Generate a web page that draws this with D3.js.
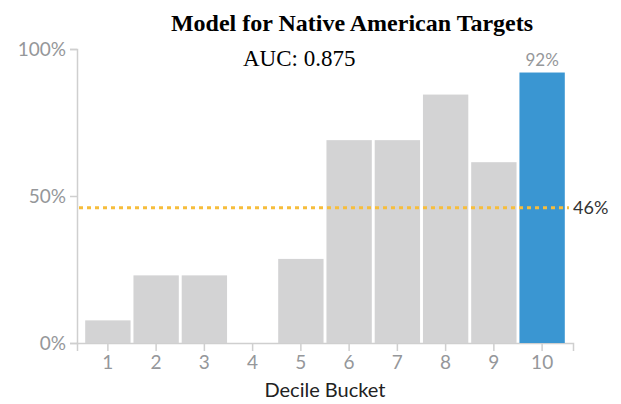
<!DOCTYPE html>
<html>
<head>
<meta charset="utf-8">
<script src="https://cdn.jsdelivr.net/npm/d3@7"></script>
<style>
  body { margin: 0; background: #fff; }
  .axis text { font-family: Lato, sans-serif; fill: #95979a; }
  .axis path, .axis line { stroke: #cfcfcf; stroke-width: 1.5px; }
</style>
</head>
<body>
<div id="chart"></div>
<script>
// data
const deciles = ["1", "2", "3", "4", "5", "6", "7", "8", "9", "10"]
const rates = [0.077, 0.23, 0.23, 0, 0.286, 0.69, 0.69, 0.845, 0.615, 0.92]
const yTicks = [0, 0.5, 1]
const average = 0.46
const highlight = "10"

const WIDTH = 621, HEIGHT = 404

const svg = d3.select("#chart").append("svg")
  .attr("width", WIDTH)
  .attr("height", HEIGHT)

const x = d3.scaleBand()
  .domain(deciles)
  .range([77, 573])
  .paddingInner(0.06)
  .paddingOuter(0.17)

const y = d3.scaleLinear()
  .domain([0, 1])
  .range([343, 49])

// axes
svg.append("g")
  .attr("class", "axis")
  .attr("transform", "translate(77,0)")
  .call(d3.axisLeft(y).tickValues(yTicks).tickFormat(d3.format(".0%")).tickSizeOuter(0).tickSize(7).tickPadding(4))
  .call(g => g.selectAll("text").attr("font-size", "19px"))

svg.append("g")
  .attr("class", "axis")
  .attr("transform", "translate(0,343)")
  .call(d3.axisBottom(x).tickSize(8).tickSizeOuter(8).tickPadding(5))
  .call(g => g.selectAll("text").attr("font-size", "19px"))

// bars
svg.selectAll("rect.bar")
  .data(deciles)
  .enter().append("rect")
  .attr("class", "bar")
  .attr("x", d => x(d))
  .attr("y", (d, i) => y(rates[i]))
  .attr("width", x.bandwidth())
  .attr("height", (d, i) => y(0) - y(rates[i]))
  .attr("fill", d => d === highlight ? "#3a96d2" : "#d3d3d4")

// value label on highlighted bar
const hi = deciles.indexOf(highlight)
svg.append("text")
  .attr("x", x(highlight) + x.bandwidth() / 2)
  .attr("y", y(rates[hi]) - 7)
  .attr("text-anchor", "middle")
  .attr("font-family", "Lato, sans-serif")
  .attr("font-size", "17px")
  .attr("fill", "#95979a")
  .text(d3.format(".0%")(rates[hi]))

// average line
svg.append("line")
  .attr("x1", 79)
  .attr("x2", 569)
  .attr("y1", y(average))
  .attr("y2", y(average))
  .attr("stroke", "#f6bd3c")
  .attr("stroke-width", 3)
  .attr("stroke-dasharray", "4,4")

svg.append("text")
  .attr("x", 573)
  .attr("y", y(average) + 6)
  .attr("font-family", "Lato, sans-serif")
  .attr("font-size", "18px")
  .attr("fill", "#333")
  .text(d3.format(".0%")(average))

// titles
svg.append("text")
  .attr("x", 352)
  .attr("y", 31)
  .attr("text-anchor", "middle")
  .attr("font-family", "Liberation Serif, serif")
  .attr("font-weight", "bold")
  .attr("font-size", "24px")
  .attr("fill", "#000")
  .text("Model for Native American Targets")

svg.append("text")
  .attr("x", 243)
  .attr("y", 66)
  .attr("font-family", "Liberation Serif, serif")
  .attr("font-size", "23px")
  .attr("fill", "#000")
  .text("AUC: 0.875")

svg.append("text")
  .attr("x", 325)
  .attr("y", 397)
  .attr("text-anchor", "middle")
  .attr("font-family", "Lato, sans-serif")
  .attr("font-size", "20px")
  .attr("fill", "#222")
  .text("Decile Bucket")
</script>
</body>
</html>
